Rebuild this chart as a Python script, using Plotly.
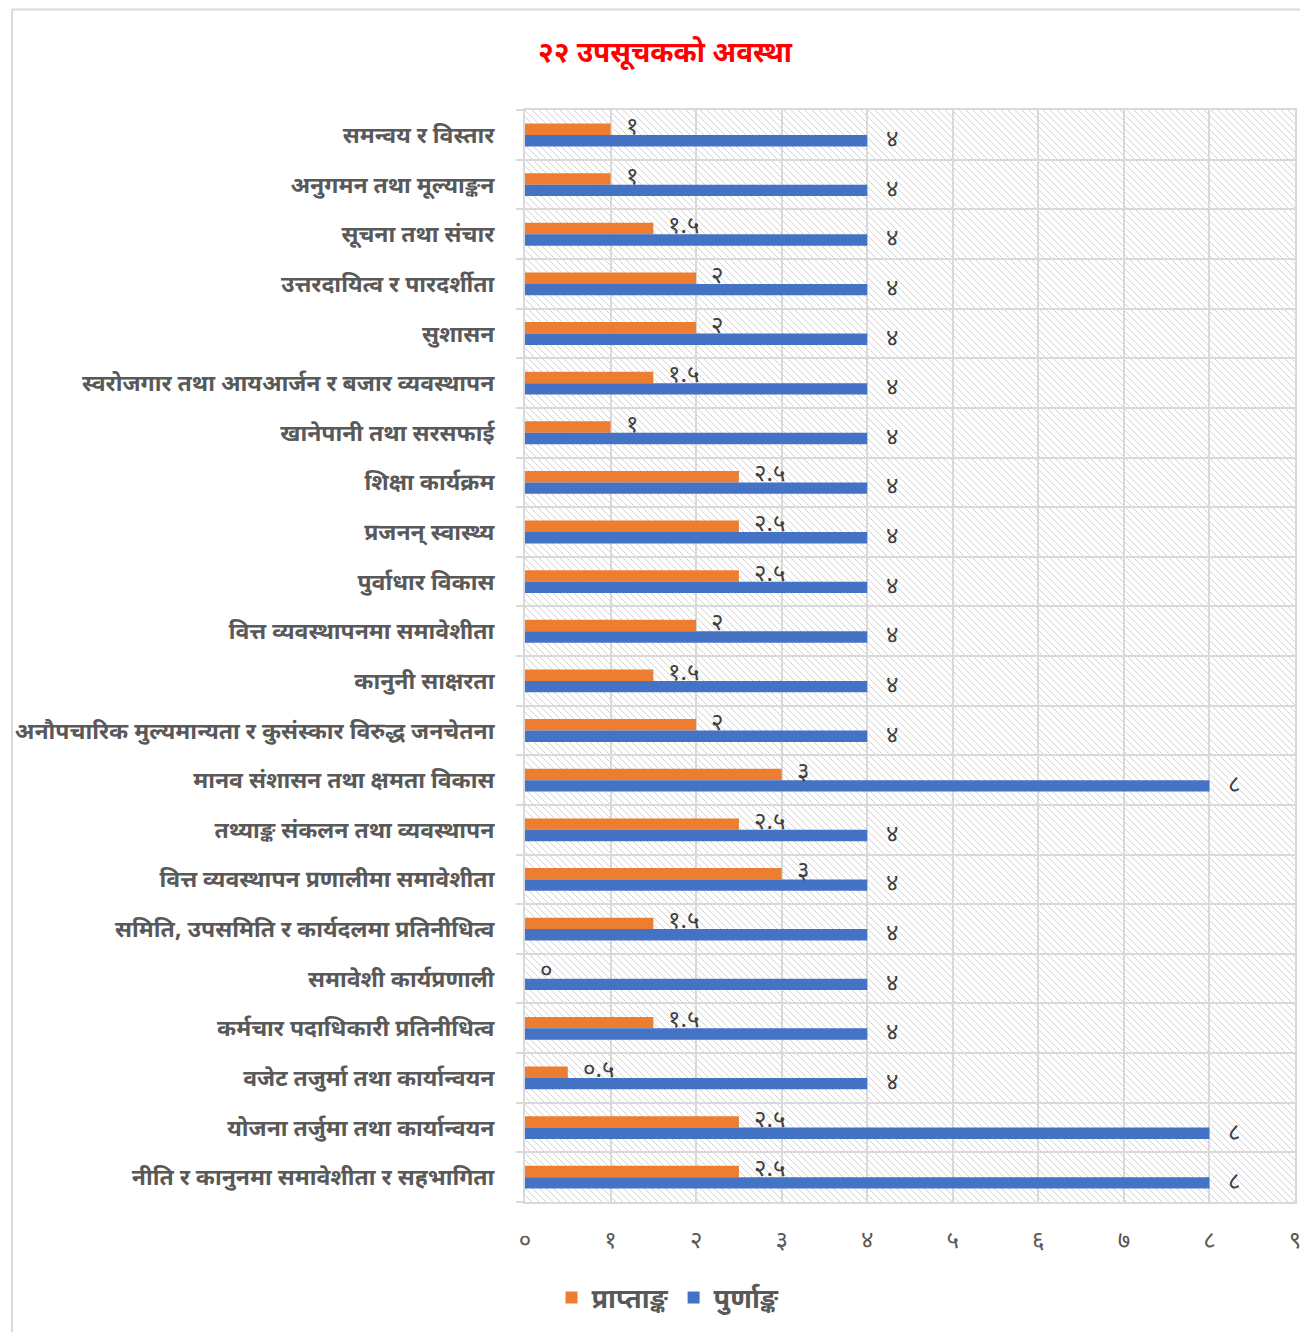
import base64
import plotly.graph_objects as go

# Data (bottom -> top, as in the source chart)
categories = [
    "नीति र कानुनमा समावेशीता र सहभागिता",
    "योजना तर्जुमा तथा कार्यान्वयन",
    "वजेट तजुर्मा तथा कार्यान्वयन",
    "कर्मचार पदाधिकारी प्रतिनीधित्व",
    "समावेशी कार्यप्रणाली",
    "समिति, उपसमिति र कार्यदलमा प्रतिनीधित्व",
    "वित्त व्यवस्थापन प्रणालीमा समावेशीता",
    "तथ्याङ्क संकलन तथा व्यवस्थापन",
    "मानव संशासन तथा क्षमता विकास",
    "अनौपचारिक मुल्यमान्यता र कुसंस्कार विरुद्ध जनचेतना",
    "कानुनी साक्षरता",
    "वित्त व्यवस्थापनमा समावेशीता",
    "पुर्वाधार विकास",
    "प्रजनन् स्वास्थ्य",
    "शिक्षा कार्यक्रम",
    "खानेपानी तथा सरसफाई",
    "स्वरोजगार तथा आयआर्जन र बजार व्यवस्थापन",
    "सुशासन",
    "उत्तरदायित्व र पारदर्शीता",
    "सूचना तथा संचार",
    "अनुगमन तथा मूल्याङ्कन",
    "समन्वय र विस्तार",
]
obtained = [2.5, 2.5, 0.5, 1.5, 0, 1.5, 3, 2.5, 3, 2, 1.5, 2, 2.5, 2.5, 2.5, 1, 1.5, 2, 2, 1.5, 1, 1]
full = [8, 8, 4, 4, 4, 4, 4, 4, 8, 4, 4, 4, 4, 4, 4, 4, 4, 4, 4, 4, 4, 4]
series_names = ["प्राप्ताङ्क", "पुर्णाङ्क"]
x_ticks = [0, 1, 2, 3, 4, 5, 6, 7, 8, 9]
title_text = "२२ उपसूचकको अवस्था"

DEV = str.maketrans("0123456789", "०१२३४५६७८९")


def dev(v):
    return f"{v:g}".translate(DEV)


ORANGE = "#ED7D31"
BLUE = "#4472C4"
GRID = "#D9D9D9"
TXT = "#595959"
FONT = "Noto Sans Devanagari, Noto Sans, sans-serif"

OFF = 8  # page body margin
W, H = 1308 - OFF, 1332 - OFF
ML = 525 - OFF
MT = 110 - OFF
MR = W - (1295 - OFF)
MB = H - (1202 - OFF)
PW, PH = W - ML - MR, H - MT - MB


def px_x(px):  # reference-pixel -> paper
    return (px - OFF - ML) / PW


def px_y(py):
    return (H - MB - (py - OFF)) / PH


BW = 0.23

fig = go.Figure()
fig.add_trace(go.Bar(
    y=categories, x=obtained, orientation="h", name=series_names[0],
    marker=dict(color=ORANGE, line=dict(width=0)), width=BW, offset=0,
))
fig.add_trace(go.Bar(
    y=categories, x=full, orientation="h", name=series_names[1],
    marker=dict(color=BLUE, line=dict(width=0)), width=BW, offset=-BW,
))

LBL = dict(family=FONT, size=24, color="#404040")
annotations = []
for c, v in zip(categories, obtained):
    annotations.append(dict(x=v, y=c, xref="x", yref="y", text=dev(v), showarrow=False,
                            xanchor="left", yanchor="middle", xshift=13, yshift=7, font=LBL))
for c, v in zip(categories, full):
    annotations.append(dict(x=v, y=c, xref="x", yref="y", text=dev(v), showarrow=False,
                            xanchor="left", yanchor="middle", xshift=17, yshift=-6, font=LBL))

annotations.append(dict(x=px_x(665), y=px_y(55), xref="paper", yref="paper", text=title_text,
                        showarrow=False, xanchor="center", yanchor="middle",
                        font=dict(family=FONT, size=28, color="#FF0000", weight="bold")))

# hatched plot background
svg = (f'<svg xmlns="http://www.w3.org/2000/svg" width="{PW}" height="{PH}">'
       '<defs><pattern id="p" width="7" height="7" patternUnits="userSpaceOnUse">'
       '<path d="M-1,-1 L8,8 M-8,-1 L1,8 M6,-1 L15,8" stroke="#D2D2D2" stroke-width="1"/>'
       '</pattern></defs><rect width="100%" height="100%" fill="url(#p)"/></svg>')
src = "data:image/svg+xml;base64," + base64.b64encode(svg.encode()).decode()

fig.update_layout(
    width=W, height=H,
    margin=dict(l=ML, r=MR, t=MT, b=MB, autoexpand=False),
    paper_bgcolor="white", plot_bgcolor="white",
    barmode="overlay",
    font=dict(family=FONT, color=TXT),
    annotations=annotations,
    images=[dict(source=src, xref="paper", yref="paper", x=0, y=1, sizex=1, sizey=1,
                 sizing="stretch", layer="below", xanchor="left", yanchor="top")],
    legend=dict(orientation="h", x=px_x(668), y=px_y(1298), xanchor="center", yanchor="middle",
                font=dict(family=FONT, size=27, color=TXT, weight="bold"),
                itemwidth=30, traceorder="normal", bgcolor="rgba(0,0,0,0)"),
    showlegend=True,
    shapes=[
        dict(type="line", xref="paper", yref="paper", x0=px_x(12), x1=px_x(1400),
             y0=px_y(9.5), y1=px_y(9.5), line=dict(color=GRID, width=2)),
        dict(type="line", xref="paper", yref="paper", x0=px_x(12), x1=px_x(12),
             y0=px_y(9.5), y1=px_y(1400), line=dict(color=GRID, width=2)),
    ],
)

fig.update_xaxes(
    range=[0, 9], tickvals=x_ticks, ticktext=[dev(t) for t in x_ticks],
    showgrid=True, gridcolor=GRID, gridwidth=2, zeroline=False,
    showline=True, linecolor=GRID, linewidth=2, mirror=True, automargin=False,
    ticks="", ticklabelstandoff=15,
    tickfont=dict(family=FONT, size=24, color=TXT),
)
fig.update_yaxes(
    type="category", categoryorder="array", categoryarray=categories,
    tickson="boundaries", showgrid=True, gridcolor=GRID, gridwidth=2,
    showline=True, linecolor=GRID, linewidth=2, mirror=True, automargin=False,
    ticks="outside", ticklen=7, tickcolor=GRID, tickwidth=2, ticklabelstandoff=24,
    tickfont=dict(family=FONT, size=23, color=TXT, weight="bold"),
)

fig.write_html("out.html")
